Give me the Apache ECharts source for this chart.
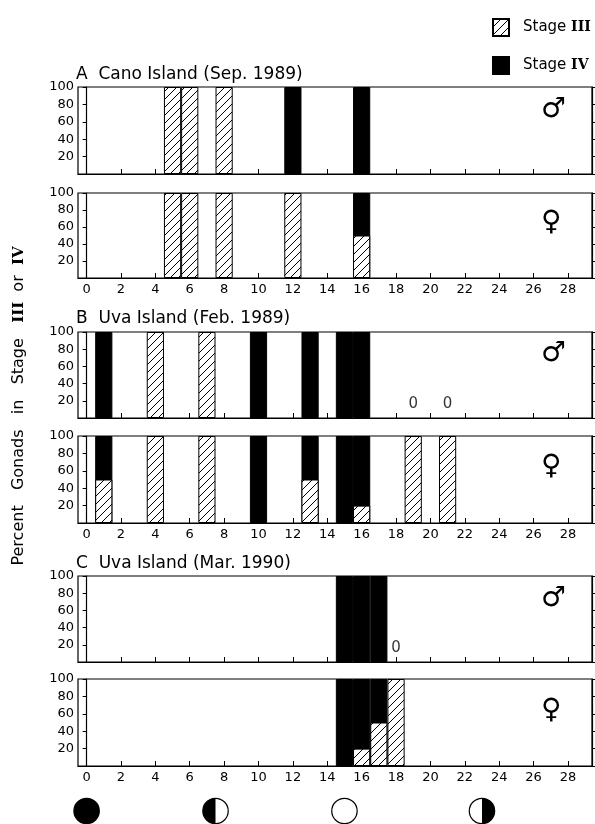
<!DOCTYPE html>
<html>
<head>
<meta charset="utf-8">
<script src="https://cdn.jsdelivr.net/npm/echarts@6/dist/echarts.min.js"></script>
<style>
  html, body { margin: 0; padding: 0; background: #fff; }
  #main { width: 595px; height: 824px; }
</style>
</head>
<body>
<div id="main"></div>
<script>
// days of the lunar cycle, percent of gonads in each stage
var aDays = [5, 6, 8, 12, 16];
var aMaleIII = [100, 100, 100, 0, 0];
var aMaleIV = [0, 0, 0, 100, 100];
var aFemaleIII = [100, 100, 100, 100, 50];
var aFemaleIV = [0, 0, 0, 0, 50];

var bDays = [1, 4, 7, 10, 13, 15, 16, 19, 21];
var bMaleIII = [0, 100, 100, 0, 0, 0, 0, 0, 0];
var bMaleIV = [100, 0, 0, 100, 100, 100, 100, 0, 0];
var bFemaleIII = [50, 100, 100, 0, 50, 0, 20, 100, 100];
var bFemaleIV = [50, 0, 0, 100, 50, 100, 80, 0, 0];
var bMaleZero = [19, 21];

var cDays = [15, 16, 17, 18];
var cMaleIII = [0, 0, 0, 0];
var cMaleIV = [100, 100, 100, 0];
var cFemaleIII = [0, 20, 50, 100];
var cFemaleIV = [100, 80, 50, 0];
var cMaleZero = [18];

var dayTicks = [0, 2, 4, 6, 8, 10, 12, 14, 16, 18, 20, 22, 24, 26, 28];
var moonDays = [0, 7.5, 15, 23];
var moonPhases = ['new', 'first', 'full', 'last'];

var titles = ['A  Cano Island (Sep. 1989)', 'B  Uva Island (Feb. 1989)', 'C  Uva Island (Mar. 1990)'];

var FONT = 'DejaVu Sans';
var ROMAN = 'DejaVu Serif';
var zeroLevel = 16;

function makeHatch() {
  var s = 8;
  var c = document.createElement('canvas');
  c.width = s; c.height = s;
  var g = c.getContext('2d');
  g.fillStyle = '#fff';
  g.fillRect(0, 0, s, s);
  g.strokeStyle = '#000';
  g.lineWidth = 1;
  g.beginPath();
  g.moveTo(0, s); g.lineTo(s, 0);
  g.moveTo(-1, 1); g.lineTo(1, -1);
  g.moveTo(s - 1, s + 1); g.lineTo(s + 1, s - 1);
  g.stroke();
  return c;
}
var hatch = { image: makeHatch(), repeat: 'repeat' };

var panels = [
  { days: aDays, III: aMaleIII, IV: aMaleIV, zeros: [], top: 87, height: 87, labels: false, sym: '♂', symY: 111 },
  { days: aDays, III: aFemaleIII, IV: aFemaleIV, zeros: [], top: 193, height: 85, labels: true, sym: '♀', symY: 224 },
  { days: bDays, III: bMaleIII, IV: bMaleIV, zeros: bMaleZero, top: 332, height: 86, labels: false, sym: '♂', symY: 355 },
  { days: bDays, III: bFemaleIII, IV: bFemaleIV, zeros: [], top: 436, height: 87, labels: true, sym: '♀', symY: 468 },
  { days: cDays, III: cMaleIII, IV: cMaleIV, zeros: cMaleZero, top: 576, height: 86, labels: false, sym: '♂', symY: 600 },
  { days: cDays, III: cFemaleIII, IV: cFemaleIV, zeros: [], top: 679, height: 87, labels: true, sym: '♀', symY: 712 }
];

var LEFT = 78, RIGHT = 3, XMIN = -0.5, XMAX = 29.4;

var grid = [], xAxis = [], yAxis = [], series = [], graphic = [];

panels.forEach(function (p, k) {
  grid.push({ left: LEFT, right: RIGHT, top: p.top, height: p.height, show: true, borderColor: '#000', borderWidth: 1.2, backgroundColor: 'transparent' });
  xAxis.push({
    type: 'value', gridIndex: k, min: XMIN, max: XMAX,
    axisLine: { show: true, onZero: false, lineStyle: { color: '#000', width: 1.2 } },
    axisTick: { show: true, inside: true, length: 5, customValues: dayTicks, lineStyle: { color: '#000' } },
    axisLabel: { show: p.labels, customValues: dayTicks, margin: 5, color: '#000', fontSize: 13, fontFamily: FONT },
    splitLine: { show: false }
  });
  yAxis.push({
    type: 'value', gridIndex: k, min: 0, max: 100, interval: 20, position: 'left',
    axisLine: { show: true, lineStyle: { color: '#000', width: 1.2 } },
    axisTick: { show: true, length: 4, lineStyle: { color: '#000' } },
    axisLabel: { margin: 4, color: '#000', fontSize: 13, fontFamily: FONT, formatter: function (v) { return v === 0 ? '' : v; } },
    splitLine: { show: false }
  });
  yAxis.push({
    type: 'value', gridIndex: k, min: 0, max: 100, interval: 20, position: 'right',
    axisLine: { show: true, lineStyle: { color: '#000', width: 1.2 } },
    axisTick: { show: true, length: 4, lineStyle: { color: '#000' } },
    axisLabel: { show: false },
    splitLine: { show: false }
  });

  // Stage IV sits on top of Stage III: draw the column top (III + IV) in black,
  // then the Stage III part over it with hatching
  series.push({
    type: 'bar', name: 'Stage Ⅳ', xAxisIndex: k, yAxisIndex: 2 * k, barWidth: 17.2, barGap: '-100%',
    data: p.days.map(function (d, i) { return [d, p.IV[i] ? p.III[i] + p.IV[i] : '-']; }),
    itemStyle: { color: '#000', borderColor: '#000', borderWidth: 1 },
    emphasis: { disabled: true }
  });
  series.push({
    type: 'bar', name: 'Stage Ⅲ', xAxisIndex: k, yAxisIndex: 2 * k, barWidth: 17.2, barGap: '-100%',
    data: p.days.map(function (d, i) { return [d, p.III[i] || '-']; }),
    itemStyle: { color: hatch, borderColor: '#000', borderWidth: 1 },
    emphasis: { disabled: true }
  });
  if (p.zeros.length) {
    series.push({
      type: 'scatter', xAxisIndex: k, yAxisIndex: 2 * k, symbolSize: 1,
      itemStyle: { color: 'rgba(0,0,0,0)' },
      label: { show: true, position: 'inside', formatter: '0', color: '#000', fontSize: 15, fontFamily: FONT },
      data: p.zeros.map(function (d) { return [d, zeroLevel]; }),
      emphasis: { disabled: true }
    });
  }
  graphic.push({
    type: 'text', left: 541, top: p.symY - 15,
    style: { text: p.sym, fontSize: 28, fontFamily: FONT, fill: '#000' }
  });
});

// moon phase row
var mg = panels.length;
grid.push({ left: LEFT, right: RIGHT, top: 798, height: 26, show: false });
xAxis.push({ type: 'value', gridIndex: mg, min: XMIN, max: XMAX, show: false });
yAxis.push({ type: 'value', gridIndex: mg, min: 0, max: 1, show: false });
series.push({
  type: 'custom', xAxisIndex: mg, yAxisIndex: yAxis.length - 1, clip: false,
  data: moonDays.map(function (d) { return [d, 0.5]; }),
  renderItem: function (params, api) {
    var c = api.coord([api.value(0), api.value(1)]);
    var r = 12.7, ph = moonPhases[params.dataIndex];
    var kids = [{ type: 'circle', shape: { cx: c[0], cy: c[1], r: r }, style: { fill: ph === 'new' ? '#000' : '#fff', stroke: '#000', lineWidth: 1.2 } }];
    if (ph === 'first') {
      kids.push({ type: 'sector', shape: { cx: c[0], cy: c[1], r0: 0, r: r, startAngle: Math.PI / 2, endAngle: Math.PI * 1.5, clockwise: true }, style: { fill: '#000' } });
    }
    if (ph === 'last') {
      kids.push({ type: 'sector', shape: { cx: c[0], cy: c[1], r0: 0, r: r, startAngle: -Math.PI / 2, endAngle: Math.PI / 2, clockwise: true }, style: { fill: '#000' } });
    }
    return { type: 'group', children: kids };
  }
});

// panel titles
var titleY = [76, 320, 565];
titles.forEach(function (t, i) {
  graphic.push({ type: 'text', left: 76, top: titleY[i] - 10, style: { text: t, fontSize: 17, fontFamily: FONT, fill: '#000' } });
});

// y axis title
graphic.push({
  type: 'text', x: 19, y: 406, rotation: Math.PI / 2,
  style: {
    text: 'Percent   Gonads   in   Stage   {r|III}  or  {r|IV}',
    fontSize: 16, fontFamily: FONT, fill: '#000', align: 'center', verticalAlign: 'middle',
    rich: { r: { fontSize: 15, fontFamily: ROMAN, fontWeight: 'bold', fill: '#000' } }
  }
});

var myChart = echarts.init(document.getElementById('main'));
var option = {
  backgroundColor: '#fff',
  animation: false,
  textStyle: { fontFamily: FONT },
  legend: {
    data: ['Stage Ⅲ', 'Stage Ⅳ'],
    orient: 'vertical', left: 487, top: 13,
    itemWidth: 16, itemHeight: 17, itemGap: 19, icon: 'rect',
    selectedMode: false,
    formatter: function (n) { return n.replace('Ⅲ', '{r|III}').replace('Ⅳ', '{r|IV}'); },
    textStyle: {
      fontSize: 15, color: '#000', fontFamily: FONT, padding: [0, 0, 0, 9],
      rich: { r: { fontSize: 14, fontFamily: ROMAN, fontWeight: 'bold', color: '#000' } }
    }
  },
  grid: grid,
  xAxis: xAxis,
  yAxis: yAxis,
  series: series,
  graphic: graphic
};
myChart.setOption(option);
</script>
</body>
</html>
